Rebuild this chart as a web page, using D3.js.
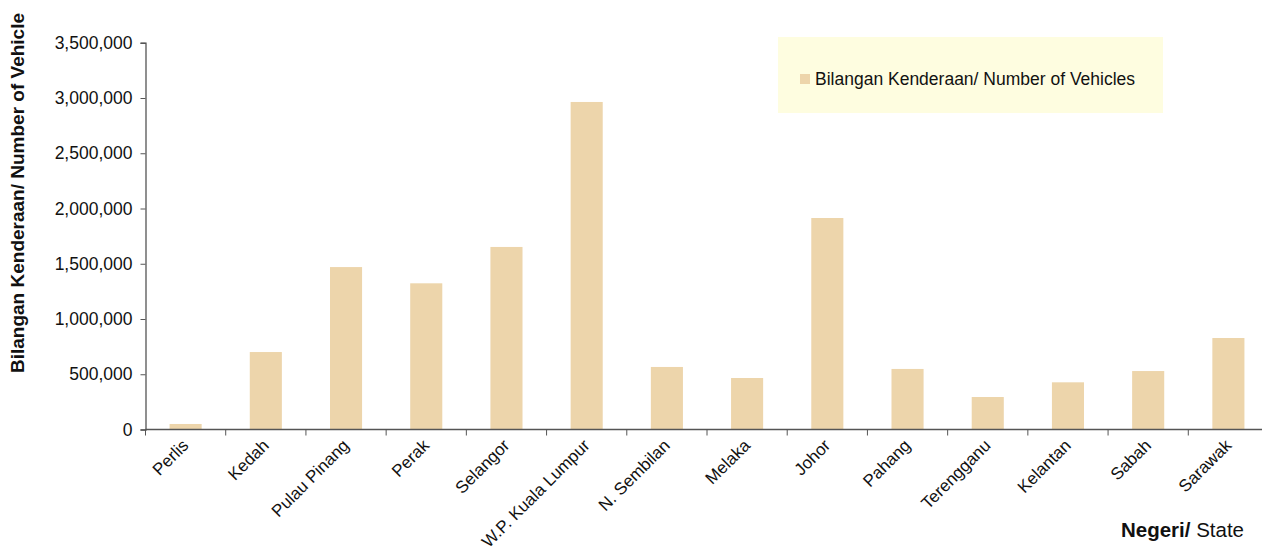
<!DOCTYPE html>
<html lang="en">
<head>
<meta charset="UTF-8">
<title>Bilangan Kenderaan</title>
<script src="https://d3js.org/d3.v7.min.js"></script>
<style>
    body { margin: 0; background: #fff; }
    svg text { font-family: "Liberation Sans", Arial, Helvetica, sans-serif; fill: #111; }
</style>
</head>
<body>
<svg width="1262" height="558" id="chart"></svg>
<script>
    // data
    const states = ["Perlis", "Kedah", "Pulau Pinang", "Perak", "Selangor", "W.P. Kuala Lumpur",
        "N. Sembilan", "Melaka", "Johor", "Pahang", "Terengganu", "Kelantan", "Sabah", "Sarawak"];
    const vehicles = [50000, 701000, 1470000, 1323000, 1652000, 2964000,
        566000, 466000, 1914000, 548000, 294000, 427000, 529000, 828000];
    const yTicks = [0, 500000, 1000000, 1500000, 2000000, 2500000, 3000000, 3500000];
    const legendLabel = "Bilangan Kenderaan/ Number of Vehicles";

    const svg = d3.select("#chart");
    const barColor = "#edd5ab";

    // scales
    const x = d3.scaleBand()
        .domain(states)
        .range([145.5, 1268.5])
        .paddingInner(0.6)
        .paddingOuter(0.3);
    const y = d3.scaleLinear()
        .domain([0, 3500000])
        .range([429.5, 42.75]);

    // bars
    svg.selectAll("rect.bar")
        .data(states)
        .enter().append("rect")
        .attr("class", "bar")
        .attr("x", d => x(d))
        .attr("width", x.bandwidth())
        .attr("y", (d, i) => y(vehicles[i]))
        .attr("height", (d, i) => y(0) - y(vehicles[i]))
        .attr("fill", barColor);

    // y axis
    const yAxis = svg.append("g")
        .attr("transform", "translate(145.5,0)")
        .call(d3.axisLeft(y).tickValues(yTicks).tickSize(5).tickPadding(8)
            .tickFormat(d3.format(",")));
    yAxis.selectAll("text").attr("font-size", 17.5).style("font-family", "inherit");
    yAxis.select(".domain").attr("stroke", "#555").attr("stroke-width", 1.3);
    yAxis.selectAll(".tick line").attr("stroke", "#555");

    // x axis: ticks at band boundaries
    const xg = svg.append("g").attr("transform", "translate(0,429.5)");
    xg.append("line")
        .attr("x1", 145.5).attr("x2", 1268.5)
        .attr("stroke", "#555").attr("stroke-width", 1.5);
    xg.selectAll("line.tk")
        .data(states)
        .enter().append("line")
        .attr("class", "tk")
        .attr("x1", d => x(d) - x.step() * 0.3)
        .attr("x2", d => x(d) - x.step() * 0.3)
        .attr("y1", 0).attr("y2", 6)
        .attr("stroke", "#555");
    xg.selectAll("text")
        .data(states)
        .enter().append("text")
        .attr("text-anchor", "end")
        .attr("font-size", 17)
        .attr("transform", d => "translate(" + (x(d) + x.bandwidth() / 2 + 4) + ",17) rotate(-45)")
        .text(d => d);

    // axis titles
    svg.append("text")
        .attr("transform", "translate(24,193) rotate(-90)")
        .attr("text-anchor", "middle")
        .attr("font-size", 19)
        .attr("font-weight", "bold")
        .text("Bilangan Kenderaan/ Number of Vehicle");
    const xt = svg.append("text")
        .attr("x", 1244).attr("y", 537)
        .attr("text-anchor", "end")
        .attr("font-size", 20.5);
    xt.append("tspan").attr("font-weight", "bold").text("Negeri/ ");
    xt.append("tspan").text("State");

    // legend
    svg.append("rect")
        .attr("x", 778).attr("y", 37)
        .attr("width", 385).attr("height", 76)
        .attr("fill", "#fefde0");
    svg.append("rect")
        .attr("x", 800).attr("y", 74)
        .attr("width", 10).attr("height", 10)
        .attr("fill", barColor);
    svg.append("text")
        .attr("x", 815).attr("y", 85)
        .attr("font-size", 17.5)
        .text(legendLabel);
</script>
</body>
</html>
